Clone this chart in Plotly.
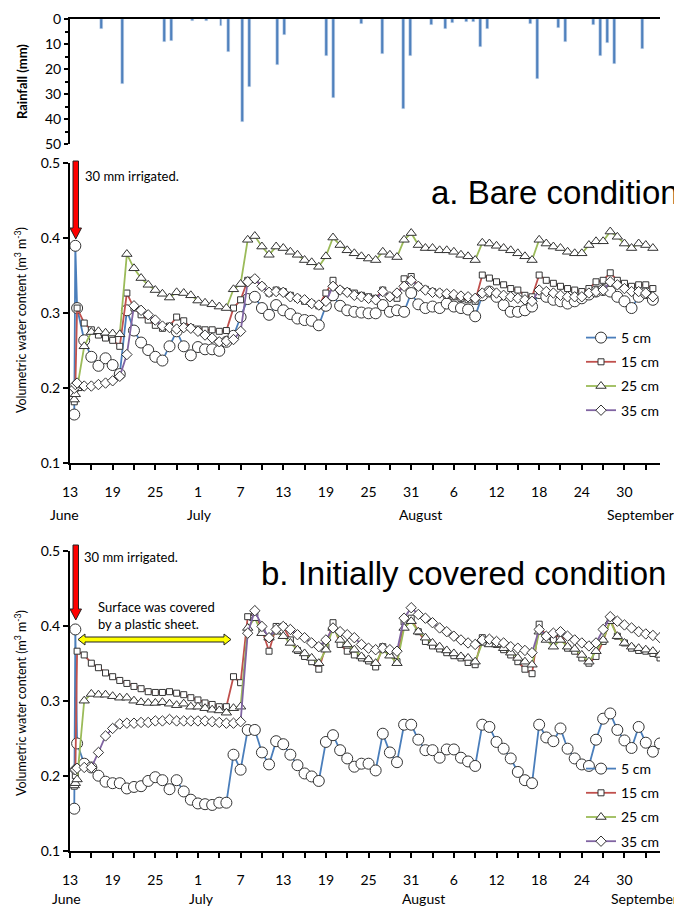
import plotly.graph_objects as go

# ---------------- data ----------------
# day index 0 = 13 June; first two readings are before/after the 30 mm irrigation on 13 June
days_a = [0.6, 0.75] + list(range(1, 83))
days_b = [0.6, 0.75] + list(range(1, 84))

rain_day = [4, 7, 13, 14, 17, 19, 21, 22, 24, 25, 29, 30, 36, 37, 41, 44, 47, 48, 51, 53,
            54, 56, 57, 58, 59, 65, 66, 69, 70, 74, 75, 76, 77, 81]
rain_mm = [4.1, 26.1, 9.1, 8.7, 0.8, 0.8, 2.7, 13.1, 41.1, 27.2, 18.5, 6.3, 14.9, 31.5, 2.0, 13.9,
           36.1, 14.9, 2.5, 3.9, 1.5, 1.2, 1.2, 11.2, 3.9, 1.9, 23.9, 3.5, 9.1, 2.5, 14.9, 9.5, 18.1, 12.1]

# a. Bare condition
a5 = [0.165, 0.390,
      0.307, 0.264, 0.242, 0.230, 0.240, 0.231, 0.219, 0.304, 0.277, 0.261,
      0.251, 0.242, 0.237, 0.256, 0.276, 0.256, 0.244, 0.255, 0.252, 0.252,
      0.250, 0.262, 0.270, 0.295, 0.319, 0.322, 0.307, 0.298, 0.311, 0.304,
      0.299, 0.293, 0.291, 0.290, 0.284, 0.310, 0.324, 0.310, 0.304, 0.302,
      0.301, 0.300, 0.300, 0.311, 0.302, 0.304, 0.302, 0.327, 0.312, 0.307,
      0.309, 0.307, 0.313, 0.309, 0.307, 0.305, 0.296, 0.324, 0.329, 0.322,
      0.311, 0.302, 0.302, 0.304, 0.309, 0.327, 0.322, 0.318, 0.316, 0.313,
      0.316, 0.320, 0.325, 0.329, 0.331, 0.329, 0.322, 0.316, 0.307, 0.322,
      0.327, 0.318]
a15 = [0.182, 0.200,
       0.307, 0.287, 0.278, 0.271, 0.267, 0.264, 0.256, 0.327, 0.307, 0.298,
       0.291, 0.284, 0.280, 0.283, 0.295, 0.290, 0.281, 0.279, 0.278, 0.278,
       0.276, 0.277, 0.307, 0.318, 0.344, 0.345, 0.336, 0.327, 0.331, 0.329,
       0.324, 0.320, 0.316, 0.313, 0.310, 0.327, 0.344, 0.331, 0.329, 0.327,
       0.324, 0.322, 0.320, 0.331, 0.322, 0.320, 0.346, 0.349, 0.336, 0.332,
       0.329, 0.327, 0.324, 0.322, 0.320, 0.318, 0.316, 0.351, 0.347, 0.342,
       0.338, 0.333, 0.331, 0.324, 0.322, 0.351, 0.344, 0.340, 0.336, 0.333,
       0.331, 0.329, 0.333, 0.342, 0.344, 0.354, 0.344, 0.340, 0.336, 0.338,
       0.338, 0.333]
a25 = [0.185, 0.192,
       0.200, 0.256, 0.275, 0.276, 0.274, 0.273, 0.272, 0.379, 0.360, 0.347,
       0.338, 0.331, 0.326, 0.321, 0.328, 0.327, 0.324, 0.317, 0.314, 0.312,
       0.309, 0.307, 0.332, 0.339, 0.398, 0.403, 0.389, 0.378, 0.389, 0.387,
       0.382, 0.378, 0.371, 0.368, 0.362, 0.376, 0.401, 0.391, 0.384, 0.380,
       0.376, 0.373, 0.371, 0.382, 0.378, 0.375, 0.398, 0.407, 0.391, 0.387,
       0.387, 0.384, 0.384, 0.382, 0.378, 0.376, 0.371, 0.394, 0.393, 0.390,
       0.387, 0.384, 0.380, 0.376, 0.371, 0.398, 0.393, 0.389, 0.387, 0.382,
       0.380, 0.380, 0.391, 0.396, 0.396, 0.409, 0.402, 0.393, 0.387, 0.393,
       0.391, 0.387]
a35 = [0.200, 0.205,
       0.207, 0.203, 0.203, 0.205, 0.207, 0.210, 0.216, 0.245, 0.310, 0.304,
       0.298, 0.291, 0.283, 0.281, 0.279, 0.281, 0.280, 0.276, 0.271, 0.267,
       0.262, 0.263, 0.265, 0.276, 0.342, 0.346, 0.336, 0.328, 0.329, 0.328,
       0.322, 0.320, 0.318, 0.313, 0.311, 0.316, 0.336, 0.331, 0.328, 0.324,
       0.322, 0.320, 0.318, 0.329, 0.322, 0.327, 0.336, 0.344, 0.336, 0.331,
       0.328, 0.327, 0.326, 0.325, 0.323, 0.322, 0.320, 0.327, 0.329, 0.327,
       0.324, 0.322, 0.320, 0.318, 0.316, 0.331, 0.329, 0.327, 0.324, 0.322,
       0.322, 0.322, 0.327, 0.329, 0.331, 0.342, 0.338, 0.333, 0.329, 0.329,
       0.327, 0.322]

# b. Initially covered condition
b5 = [0.156, 0.395,
      0.243, 0.216, 0.211, 0.200, 0.192, 0.190, 0.190, 0.183, 0.185, 0.186,
      0.193, 0.198, 0.194, 0.182, 0.194, 0.179, 0.168, 0.163, 0.162, 0.161,
      0.164, 0.164, 0.228, 0.208, 0.261, 0.261, 0.231, 0.215, 0.246, 0.242,
      0.228, 0.214, 0.203, 0.199, 0.193, 0.245, 0.254, 0.234, 0.223, 0.212,
      0.216, 0.216, 0.207, 0.256, 0.231, 0.218, 0.268, 0.268, 0.248, 0.234,
      0.234, 0.224, 0.235, 0.235, 0.224, 0.219, 0.213, 0.268, 0.265, 0.245,
      0.236, 0.223, 0.205, 0.194, 0.190, 0.268, 0.251, 0.246, 0.263, 0.236,
      0.223, 0.215, 0.213, 0.248, 0.276, 0.283, 0.261, 0.247, 0.237, 0.265,
      0.244, 0.232, 0.243]
b15 = [0.186, 0.200,
       0.366, 0.361, 0.350, 0.344, 0.337, 0.332, 0.327, 0.323, 0.319, 0.316,
       0.312, 0.311, 0.311, 0.312, 0.310, 0.308, 0.304, 0.301, 0.297, 0.295,
       0.292, 0.292, 0.332, 0.324, 0.412, 0.417, 0.395, 0.366, 0.399, 0.399,
       0.381, 0.367, 0.359, 0.352, 0.342, 0.372, 0.404, 0.375, 0.366, 0.361,
       0.357, 0.353, 0.345, 0.372, 0.362, 0.352, 0.405, 0.410, 0.392, 0.379,
       0.373, 0.369, 0.364, 0.360, 0.357, 0.351, 0.348, 0.384, 0.381, 0.375,
       0.368, 0.361, 0.352, 0.342, 0.336, 0.402, 0.386, 0.381, 0.390, 0.370,
       0.366, 0.357, 0.350, 0.359, 0.379, 0.408, 0.386, 0.377, 0.370, 0.367,
       0.366, 0.363, 0.357]
b25 = [0.187, 0.190,
       0.195, 0.300, 0.309, 0.308, 0.308, 0.306, 0.304, 0.304, 0.300, 0.298,
       0.297, 0.297, 0.298, 0.296, 0.294, 0.296, 0.292, 0.292, 0.290, 0.288,
       0.287, 0.284, 0.290, 0.292, 0.397, 0.410, 0.390, 0.384, 0.392, 0.386,
       0.377, 0.368, 0.363, 0.357, 0.350, 0.368, 0.397, 0.381, 0.375, 0.368,
       0.359, 0.355, 0.350, 0.368, 0.360, 0.350, 0.397, 0.406, 0.392, 0.384,
       0.377, 0.372, 0.367, 0.363, 0.359, 0.357, 0.352, 0.377, 0.375, 0.375,
       0.370, 0.364, 0.357, 0.352, 0.348, 0.392, 0.381, 0.372, 0.381, 0.372,
       0.369, 0.361, 0.352, 0.366, 0.381, 0.406, 0.386, 0.377, 0.372, 0.370,
       0.368, 0.366, 0.361]
b35 = [0.208, 0.208,
       0.210, 0.211, 0.211, 0.231, 0.253, 0.263, 0.269, 0.270, 0.270, 0.271,
       0.271, 0.273, 0.273, 0.275, 0.273, 0.273, 0.273, 0.273, 0.273, 0.272,
       0.271, 0.270, 0.270, 0.272, 0.390, 0.420, 0.399, 0.384, 0.395, 0.399,
       0.395, 0.388, 0.384, 0.377, 0.372, 0.381, 0.397, 0.392, 0.388, 0.384,
       0.375, 0.370, 0.368, 0.370, 0.368, 0.366, 0.410, 0.424, 0.415, 0.410,
       0.404, 0.397, 0.392, 0.386, 0.381, 0.377, 0.375, 0.381, 0.382, 0.379,
       0.377, 0.372, 0.370, 0.367, 0.364, 0.395, 0.386, 0.390, 0.392, 0.386,
       0.381, 0.377, 0.373, 0.377, 0.395, 0.412, 0.406, 0.401, 0.397, 0.392,
       0.389, 0.387, 0.384]

for s in (a5, a15, a25, a35):
    assert len(s) == len(days_a), len(s)
for s in (b5, b15, b25, b35):
    assert len(s) == len(days_b), len(s)

depth_names = ["5 cm", "15 cm", "25 cm", "35 cm"]
tick_days = [0, 6, 12, 18, 24, 30, 36, 42, 48, 54, 60, 66, 72, 78]
tick_text = ["13", "19", "25", "1", "7", "13", "19", "25", "31", "6", "12", "18", "24", "30"]
months = ["June", "July", "August", "September"]

# ---------------- style ----------------
# the page body has an 8 px margin, so the figure is 8 px smaller and all
# pixel positions (measured on the 682x906 reference) are shifted by 8 px
OFF = 8
W, H = 682 - OFF, 906 - OFF
def px(x): return (x - OFF) / W
def py(y): return 1 - (y - OFF) / H

FONT = "Lato, Carlito, Calibri, sans-serif"
colors = ["#4A7EBB", "#C0504D", "#9BBB59", "#8064A2"]
symbols = ["circle", "square", "triangle-up", "diamond"]
msizes = [11, 6, 9, 8]

fig = go.Figure()

fig.add_trace(go.Bar(x=rain_day, y=rain_mm, marker_color="#4F81BD", width=0.42,
                     showlegend=False, xaxis="x", yaxis="y"))

def add_panel(days, series, xa, ya, legend, grp):
    for i, (s, name) in enumerate(zip(series, depth_names)):
        fig.add_trace(go.Scatter(
            x=days, y=s, mode="lines+markers", name=name,
            line=dict(color=colors[i], width=1.8),
            marker=dict(symbol=symbols[i], size=msizes[i], color="white",
                        line=dict(color="#333333", width=1)),
            xaxis=xa, yaxis=ya, legend=legend, legendgroup=grp + str(i)))

add_panel(days_a, [a5, a15, a25, a35], "x2", "y2", "legend", "a")
add_panel(days_b, [b5, b15, b25, b35], "x3", "y3", "legend2", "b")

xdom = [px(70), px(660)]
axis_common = dict(showline=True, linecolor="black", linewidth=2, showgrid=False, zeroline=False,
                   tickfont=dict(family=FONT, size=14, color="black"), ticks="outside",
                   tickcolor="black", tickwidth=1.5, automargin=False)

xpanel = dict(axis_common, range=[0, 83], tickmode="array", tickvals=tick_days, ticktext=tick_text,
              ticklen=5, ticklabelstandoff=10,
              minor=dict(tick0=0, dtick=3, ticks="outside", ticklen=5, tickcolor="black",
                         tickwidth=1.5, showgrid=False))
ypanel = dict(axis_common, range=[0.1, 0.5], dtick=0.1, tickformat=".1f", ticklen=5)

leg = dict(xanchor="left", yanchor="top", bgcolor="rgba(0,0,0,0)",
           font=dict(family=FONT, size=14, color="black"), tracegroupgap=3,
           traceorder="grouped", itemsizing="trace")

fig.update_layout(
    width=W, height=H, margin=dict(l=0, r=0, t=0, b=0, autoexpand=False),
    paper_bgcolor="white", plot_bgcolor="white", bargap=0,
    xaxis=dict(axis_common, domain=xdom, range=[-0.5, 83.5], side="top", ticks="",
               showticklabels=False, anchor="y"),
    yaxis=dict(axis_common, domain=[py(144), py(19)], range=[50, 0], dtick=10, ticklen=4,
               minor=dict(dtick=5, ticks="outside", ticklen=3, tickcolor="black"), anchor="x"),
    xaxis2=dict(xpanel, domain=xdom, anchor="y2"),
    yaxis2=dict(ypanel, domain=[py(463.3), py(163.3)], anchor="x2"),
    xaxis3=dict(xpanel, domain=xdom, anchor="y3"),
    yaxis3=dict(ypanel, domain=[py(850.7), py(550.7)], anchor="x3"),
    legend=dict(leg, x=px(581), y=py(322)),
    legend2=dict(leg, x=px(581), y=py(753)),
)

ann = []
def text(t, x, y, size, xanchor="center", family=FONT, angle=0, align="left"):
    ann.append(dict(text=t, x=px(x), y=py(y), xref="paper", yref="paper", showarrow=False,
                    xanchor=xanchor, yanchor="middle", textangle=angle, align=align,
                    font=dict(family=family, size=size, color="black")))

text("<b>Rainfall (mm)</b>", 22, 82, 13, angle=-90)
text("Volumetric water content (m<sup>3</sup> m<sup>-3</sup>)", 20, 320, 12.5, angle=-90)
text("Volumetric water content (m<sup>3</sup> m<sup>-3</sup>)", 20, 703, 12.5, angle=-90)
text("a. Bare condition", 681, 192, 33, xanchor="right", family="Liberation Sans, Arial, sans-serif")
text("b. Initially covered condition", 668, 573, 33, xanchor="right",
     family="Liberation Sans, Arial, sans-serif")
text("30 mm irrigated.", 83, 176, 13, xanchor="left")
text("30 mm irrigated.", 82, 557, 13, xanchor="left")
text("Surface was covered<br>by a plastic sheet.", 96, 615, 13, xanchor="left")
for m, xa, xb in zip(months, [64, 199, 420, 640], [66, 201, 423, 644]):
    text(m, xa, 515, 14)
    text(m, xb, 898, 14)
fig.update_layout(annotations=ann)

def path(pts):
    return "M " + " L ".join(f"{px(x):.5f},{py(y):.5f}" for x, y in pts) + " Z"

def red_arrow(top, base, tip):
    return dict(type="path", xref="paper", yref="paper", fillcolor="#FF0000",
                line=dict(color="#222222", width=1),
                path=path([(73, top), (78.5, top), (78.5, base), (81.5, base), (75.75, tip),
                           (70, base), (73, base)]))

yc = 639.5
yellow = dict(type="path", xref="paper", yref="paper", fillcolor="#FFFF00",
              line=dict(color="#222222", width=1),
              path=path([(78, yc), (85, yc - 5.5), (85, yc - 2.5), (224, yc - 2.5), (224, yc - 5.5),
                         (231, yc), (224, yc + 5.5), (224, yc + 2.5), (85, yc + 2.5),
                         (85, yc + 5.5)]))

fig.update_layout(shapes=[red_arrow(161, 228, 239), red_arrow(545, 609, 620), yellow])

fig.write_html("out.html")
